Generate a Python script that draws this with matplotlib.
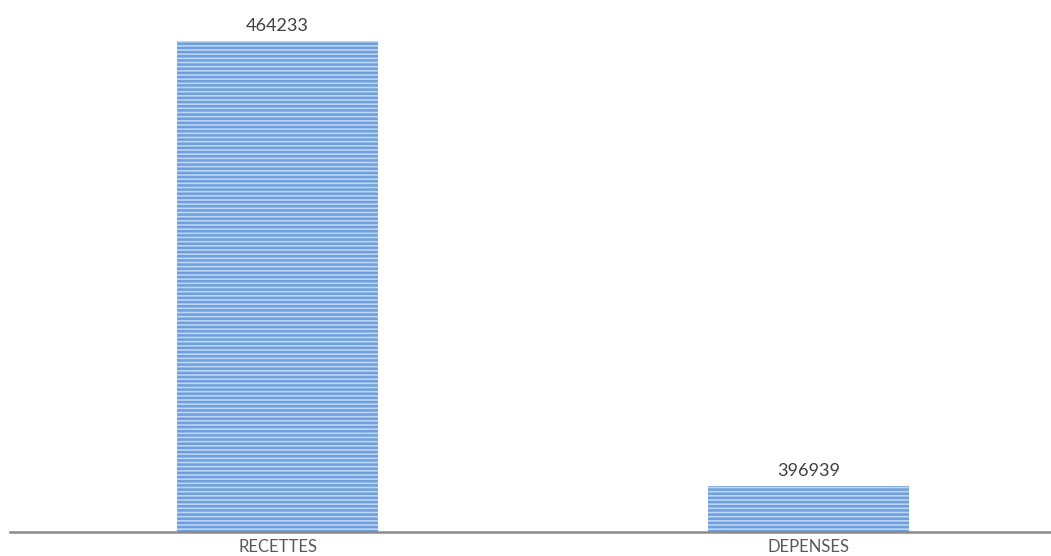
import matplotlib
matplotlib.use("Agg")
import matplotlib.pyplot as plt

categories = ["RECETTES", "DEPENSES"]
values = [464233, 396939]

plt.rcParams['hatch.linewidth'] = 1.8
plt.rcParams['hatch.color'] = '#6f9fdc'

fig = plt.figure(figsize=(10.51, 5.56), dpi=100)
ax = fig.add_axes([10/1051, 1 - 532/556, 1 - 10/1051, 532/556])

x = list(range(len(categories)))
bars = ax.bar(x, values, width=0.379, color='#bcd6f5', edgecolor='#6f9fdc',
              linewidth=0, hatch='----', zorder=2)

ax.set_xlim(-0.504, 1.457)
ax.set_ylim(390000, 470449)

for xi, v in zip(x, values):
    ax.annotate(str(v), (xi, v), xytext=(0, 5), textcoords='offset points',
                ha='center', va='bottom', fontsize=13, color='#404040', family='Lato')

for s in ['top', 'right', 'left']:
    ax.spines[s].set_visible(False)
ax.spines['bottom'].set_color('#8a8a8a')
ax.spines['bottom'].set_linewidth(1.8)
ax.spines['bottom'].set_zorder(3)
ax.set_yticks([])
ax.set_xticks(x)
ax.set_xticklabels(categories, fontsize=12, color='#595959', family='Lato')
ax.tick_params(axis='x', length=0, pad=5)

fig.savefig('out.png', dpi=100)
